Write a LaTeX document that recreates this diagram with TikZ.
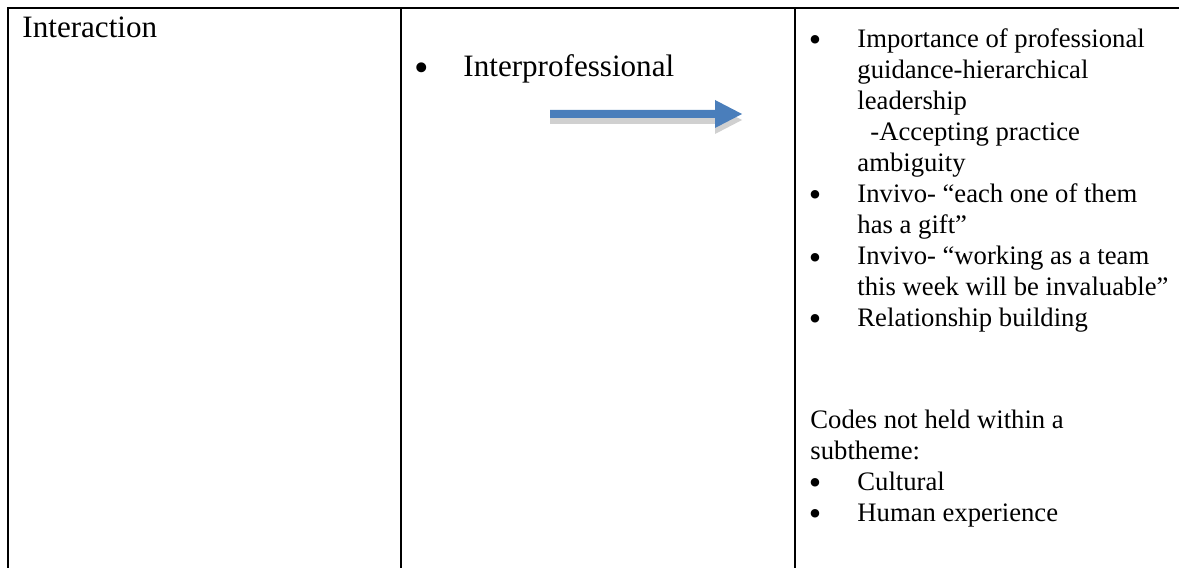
\documentclass[tikz,border=0pt]{standalone}
\usepackage{fontspec}
\usepackage{graphicx}
\setmainfont{Liberation Serif}
\definecolor{arrowblue}{HTML}{4A7EBB}
\definecolor{shadowgray}{HTML}{D0D0D0}
\newcommand{\bigdot}{\scalebox{1.33}{•}}
\begin{document}
\begin{tikzpicture}[x=0.45pt,y=-0.45pt,
  rule/.style={line width=1pt, black},
  bigtext/.style={font=\fontsize{14}{16}\selectfont, inner sep=0pt, anchor=base west},
  smalltext/.style={font=\fontsize{12}{14}\selectfont, inner sep=0pt, anchor=base west},
  bigbullet/.style={font=\fontsize{14}{16}\selectfont, inner sep=0pt, anchor=base},
  smallbullet/.style={font=\fontsize{12}{14}\selectfont, inner sep=0pt, anchor=base}]
\useasboundingbox (0,0) rectangle (1179,568);
% table rules
\draw[rule] (8,568) -- (8,8) -- (1179,8);
\draw[rule] (401,8) -- (401,568);
\draw[rule] (795,8) -- (795,568);
% column 1
\node[bigtext] (theme) at (22,38) {Interaction};
% column 2
\node[bigbullet] (bm) at (422,82) {\bigdot};
\node[bigtext] (sub) at (463,77) {Interprofessional};
% block arrow with shadow
\fill[shadowgray] (550,116) -- (715,116) -- (715,106) -- (742,120) -- (715,134) -- (715,124) -- (550,124) -- cycle;
\fill[arrowblue] (550,110) -- (715,110) -- (715,100) -- (742,114) -- (715,128) -- (715,118) -- (550,118) -- cycle;
% column 3
\node[smallbullet] (b1) at (815,52) {\bigdot};
\node[smalltext] (l1) at (857,48) {Importance of professional};
\node[smalltext] (l2) at (857,79) {guidance-hierarchical};
\node[smalltext] (l3) at (857,110) {leadership};
\node[smalltext] (l4) at (870,141) {-Accepting practice};
\node[smalltext] (l5) at (857,172) {ambiguity};
\node[smallbullet] (b2) at (815,207) {\bigdot};
\node[smalltext] (l6) at (857,203) {Invivo- “each one of them};
\node[smalltext] (l7) at (857,234) {has a gift”};
\node[smallbullet] (b3) at (815,269) {\bigdot};
\node[smalltext] (l8) at (857,265) {Invivo- “working as a team};
\node[smalltext] (l9) at (857,296) {this week will be invaluable”};
\node[smallbullet] (b4) at (815,331) {\bigdot};
\node[smalltext] (l10) at (857,327) {Relationship building};
\node[smalltext] (l11) at (810,428) {Codes not held within a};
\node[smalltext] (l12) at (810,459) {subtheme:};
\node[smallbullet] (b5) at (815,494) {\bigdot};
\node[smalltext] (l13) at (857,490) {Cultural};
\node[smallbullet] (b6) at (815,525) {\bigdot};
\node[smalltext] (l14) at (857,521) {Human experience};
\end{tikzpicture}
\end{document}
